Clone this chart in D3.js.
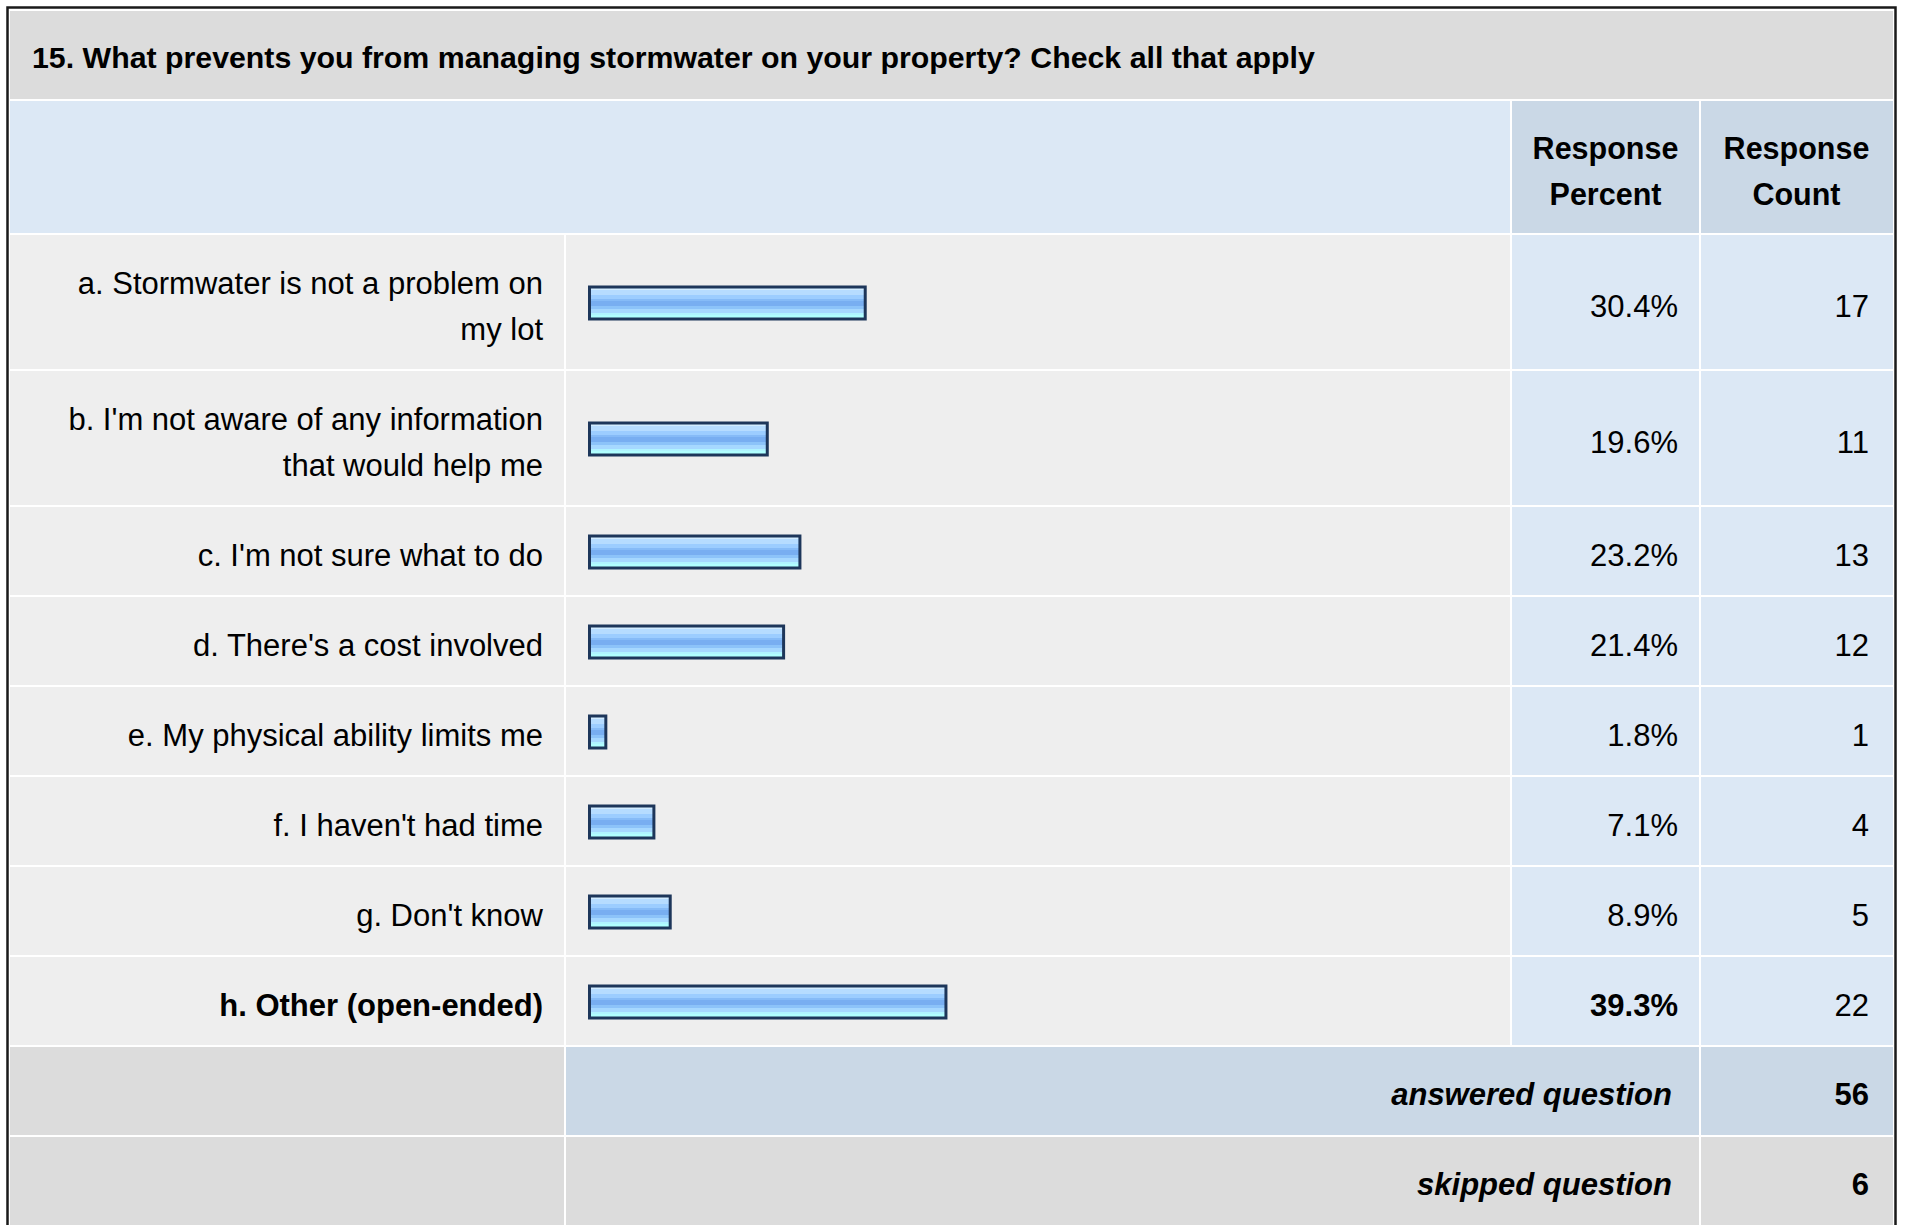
<!DOCTYPE html>
<html>
<head>
<meta charset="utf-8">
<script src="https://cdn.jsdelivr.net/npm/d3@7/dist/d3.min.js"></script>
<style>
  html, body { margin: 0; padding: 0; background: #ffffff; }
  svg { display: block; }
</style>
</head>
<body>
<svg id="chart" width="1907" height="1225"></svg>
<script>
// Survey question and answer options
const questionTitle = "15. What prevents you from managing stormwater on your property? Check all that apply";
const headerPercent = ["Response", "Percent"];
const headerCount = ["Response", "Count"];

const categories = [
  ["a. Stormwater is not a problem on", "my lot"],
  ["b. I'm not aware of any information", "that would help me"],
  ["c. I'm not sure what to do"],
  ["d. There's a cost involved"],
  ["e. My physical ability limits me"],
  ["f. I haven't had time"],
  ["g. Don't know"],
  ["h. Other (open-ended)"]
];
const percents = [30.4, 19.6, 23.2, 21.4, 1.8, 7.1, 8.9, 39.3];
const counts = [17, 11, 13, 12, 1, 4, 5, 22];
const boldRows = [false, false, false, false, false, false, false, true];

const summaryLabels = ["answered question", "skipped question"];
const summaryValues = [56, 6];

// ---- layout ----
const FONT = '"Liberation Sans"';
const svg = d3.select("#chart");
const L = 10, R = 1893;
const colLabel = [L, 565], colBar = [565, 1511], colPct = [1511, 1700], colCnt = [1700, R];
const titleTop = 10, headerTop = 100, rowsTop = 234;
const lineH = 46, rowBase = 44;
const fontBody = 31, fontHead = 30.5, fontTitle = 30.3;
const textShift = 3;

// bar gradient: glossy horizontal stripes
const defs = svg.append("defs");
const grad = defs.append("linearGradient").attr("id", "barGrad")
  .attr("x1", 0).attr("y1", 0).attr("x2", 0).attr("y2", 1);
[
  [0, "#d2ecff"], [0.1, "#d2ecff"], [0.1, "#b6dcff"], [0.25, "#b6dcff"],
  [0.25, "#9ccdff"], [0.38, "#9ccdff"], [0.38, "#86bbf7"], [0.44, "#86bbf7"],
  [0.44, "#78aef1"], [0.6, "#78aef1"], [0.6, "#8cc3f9"], [0.7, "#8cc3f9"],
  [0.7, "#a6d8ff"], [0.8, "#a6d8ff"], [0.8, "#b0f4ff"], [0.86, "#b0f4ff"],
  [0.86, "#b0ffff"], [1, "#b0ffff"]
].forEach(([o, c]) => grad.append("stop").attr("offset", o).attr("stop-color", c));

svg.append("rect").attr("x", 0).attr("y", 0).attr("width", 1907).attr("height", 1225).attr("fill", "#ffffff");

const cells = svg.append("g");
function cell(x0, x1, y0, y1, fill) {
  cells.append("rect")
    .attr("x", x0 + 1).attr("y", y0 + 1)
    .attr("width", Math.max(0, x1 - x0 - 2)).attr("height", Math.max(0, y1 - y0 - 2))
    .attr("fill", fill);
}

// title band
cell(L - 1, R + 1, titleTop, headerTop, "#dcdcdc");
// header band
cell(L - 1, colPct[0], headerTop, rowsTop, "#dce8f5");
cell(colPct[0], colPct[1], headerTop, rowsTop, "#cad8e6");
cell(colCnt[0], colCnt[1] + 1, headerTop, rowsTop, "#cad8e6");

// row geometry from the number of label lines
const rowTops = [];
let yy = rowsTop;
categories.forEach(lines => { rowTops.push(yy); yy += rowBase + lineH * lines.length; });
const rowsBottom = yy;
const rowH = i => rowBase + lineH * categories[i].length;

categories.forEach((lines, i) => {
  const y0 = rowTops[i], y1 = y0 + rowH(i);
  cell(L - 1, colLabel[1], y0, y1, "#eeeeee");
  cell(colBar[0], colBar[1], y0, y1, "#eeeeee");
  cell(colPct[0], colPct[1], y0, y1, "#dce8f5");
  cell(colCnt[0], colCnt[1] + 1, y0, y1, "#dce8f5");
});

// summary rows
const sumTops = summaryLabels.map((d, i) => rowsBottom + i * (rowBase + lineH));
const sumH = rowBase + lineH;
cell(L - 1, colLabel[1], sumTops[0], sumTops[0] + sumH, "#dcdcdc");
cell(colBar[0], colPct[1], sumTops[0], sumTops[0] + sumH, "#cad8e6");
cell(colCnt[0], colCnt[1] + 1, sumTops[0], sumTops[0] + sumH, "#cad8e6");
cell(L - 1, colLabel[1], sumTops[1], sumTops[1] + sumH + 4, "#dcdcdc");
cell(colBar[0], colPct[1], sumTops[1], sumTops[1] + sumH + 4, "#dcdcdc");
cell(colCnt[0], colCnt[1] + 1, sumTops[1], sumTops[1] + sumH + 4, "#dcdcdc");

// outer frame
svg.append("rect").attr("x", 7.5).attr("y", 7.5).attr("width", R - 7.5 + 2.5).attr("height", 1225)
  .attr("fill", "none").attr("stroke", "#1a1a1a").attr("stroke-width", 2.5);

// ---- text ----
const txt = svg.append("g").attr("fill", "#000");
function addText(xp, yp, s, size, opts = {}) {
  return txt.append("text").attr("x", xp).attr("y", yp).attr("dy", "0.35em")
    .style("font-family", FONT).attr("font-size", size)
    .attr("text-anchor", opts.anchor || "start")
    .attr("font-weight", opts.bold ? "bold" : "normal")
    .attr("font-style", opts.italic ? "italic" : "normal")
    .text(s);
}

addText(32, (titleTop + headerTop) / 2 + 2, questionTitle, fontTitle, { bold: true });

[[headerPercent, colPct], [headerCount, colCnt]].forEach(([lines, col]) => {
  const cx = (col[0] + col[1]) / 2, cy = (headerTop + rowsTop) / 2 + 4;
  lines.forEach((s, k) => addText(cx, cy + (k - 0.5) * lineH, s, fontHead, { bold: true, anchor: "middle" }));
});

// ---- bars ----
const x = d3.scaleLinear().domain([0, 100]).range([0, 907]);
const barX = 588, barH = 35, stroke = 3;

categories.forEach((lines, i) => {
  const cy = rowTops[i] + rowH(i) / 2 + 1 + textShift;
  const n = lines.length;
  lines.forEach((s, k) => addText(543, cy + (k - (n - 1) / 2) * lineH, s, fontBody,
    { anchor: "end", bold: boldRows[i] }));
  addText(1678, cy, d3.format(".1f")(percents[i]) + "%", fontBody, { anchor: "end", bold: boldRows[i] });
  addText(1869, cy, counts[i], fontBody, { anchor: "end" });
});

svg.append("g").selectAll("rect").data(percents).join("rect")
  .attr("x", barX + stroke / 2)
  .attr("y", (d, i) => rowTops[i] + rowH(i) / 2 + 1 - barH / 2 + stroke / 2)
  .attr("width", d => x(d))
  .attr("height", barH - stroke)
  .attr("fill", "url(#barGrad)")
  .attr("stroke", "#1d365a")
  .attr("stroke-width", stroke);

summaryLabels.forEach((s, i) => {
  const cy = sumTops[i] + sumH / 2 + textShift;
  addText(1672, cy, s, fontBody, { anchor: "end", bold: true, italic: true });
  addText(1869, cy, summaryValues[i], fontBody, { anchor: "end", bold: true });
});
</script>
</body>
</html>
